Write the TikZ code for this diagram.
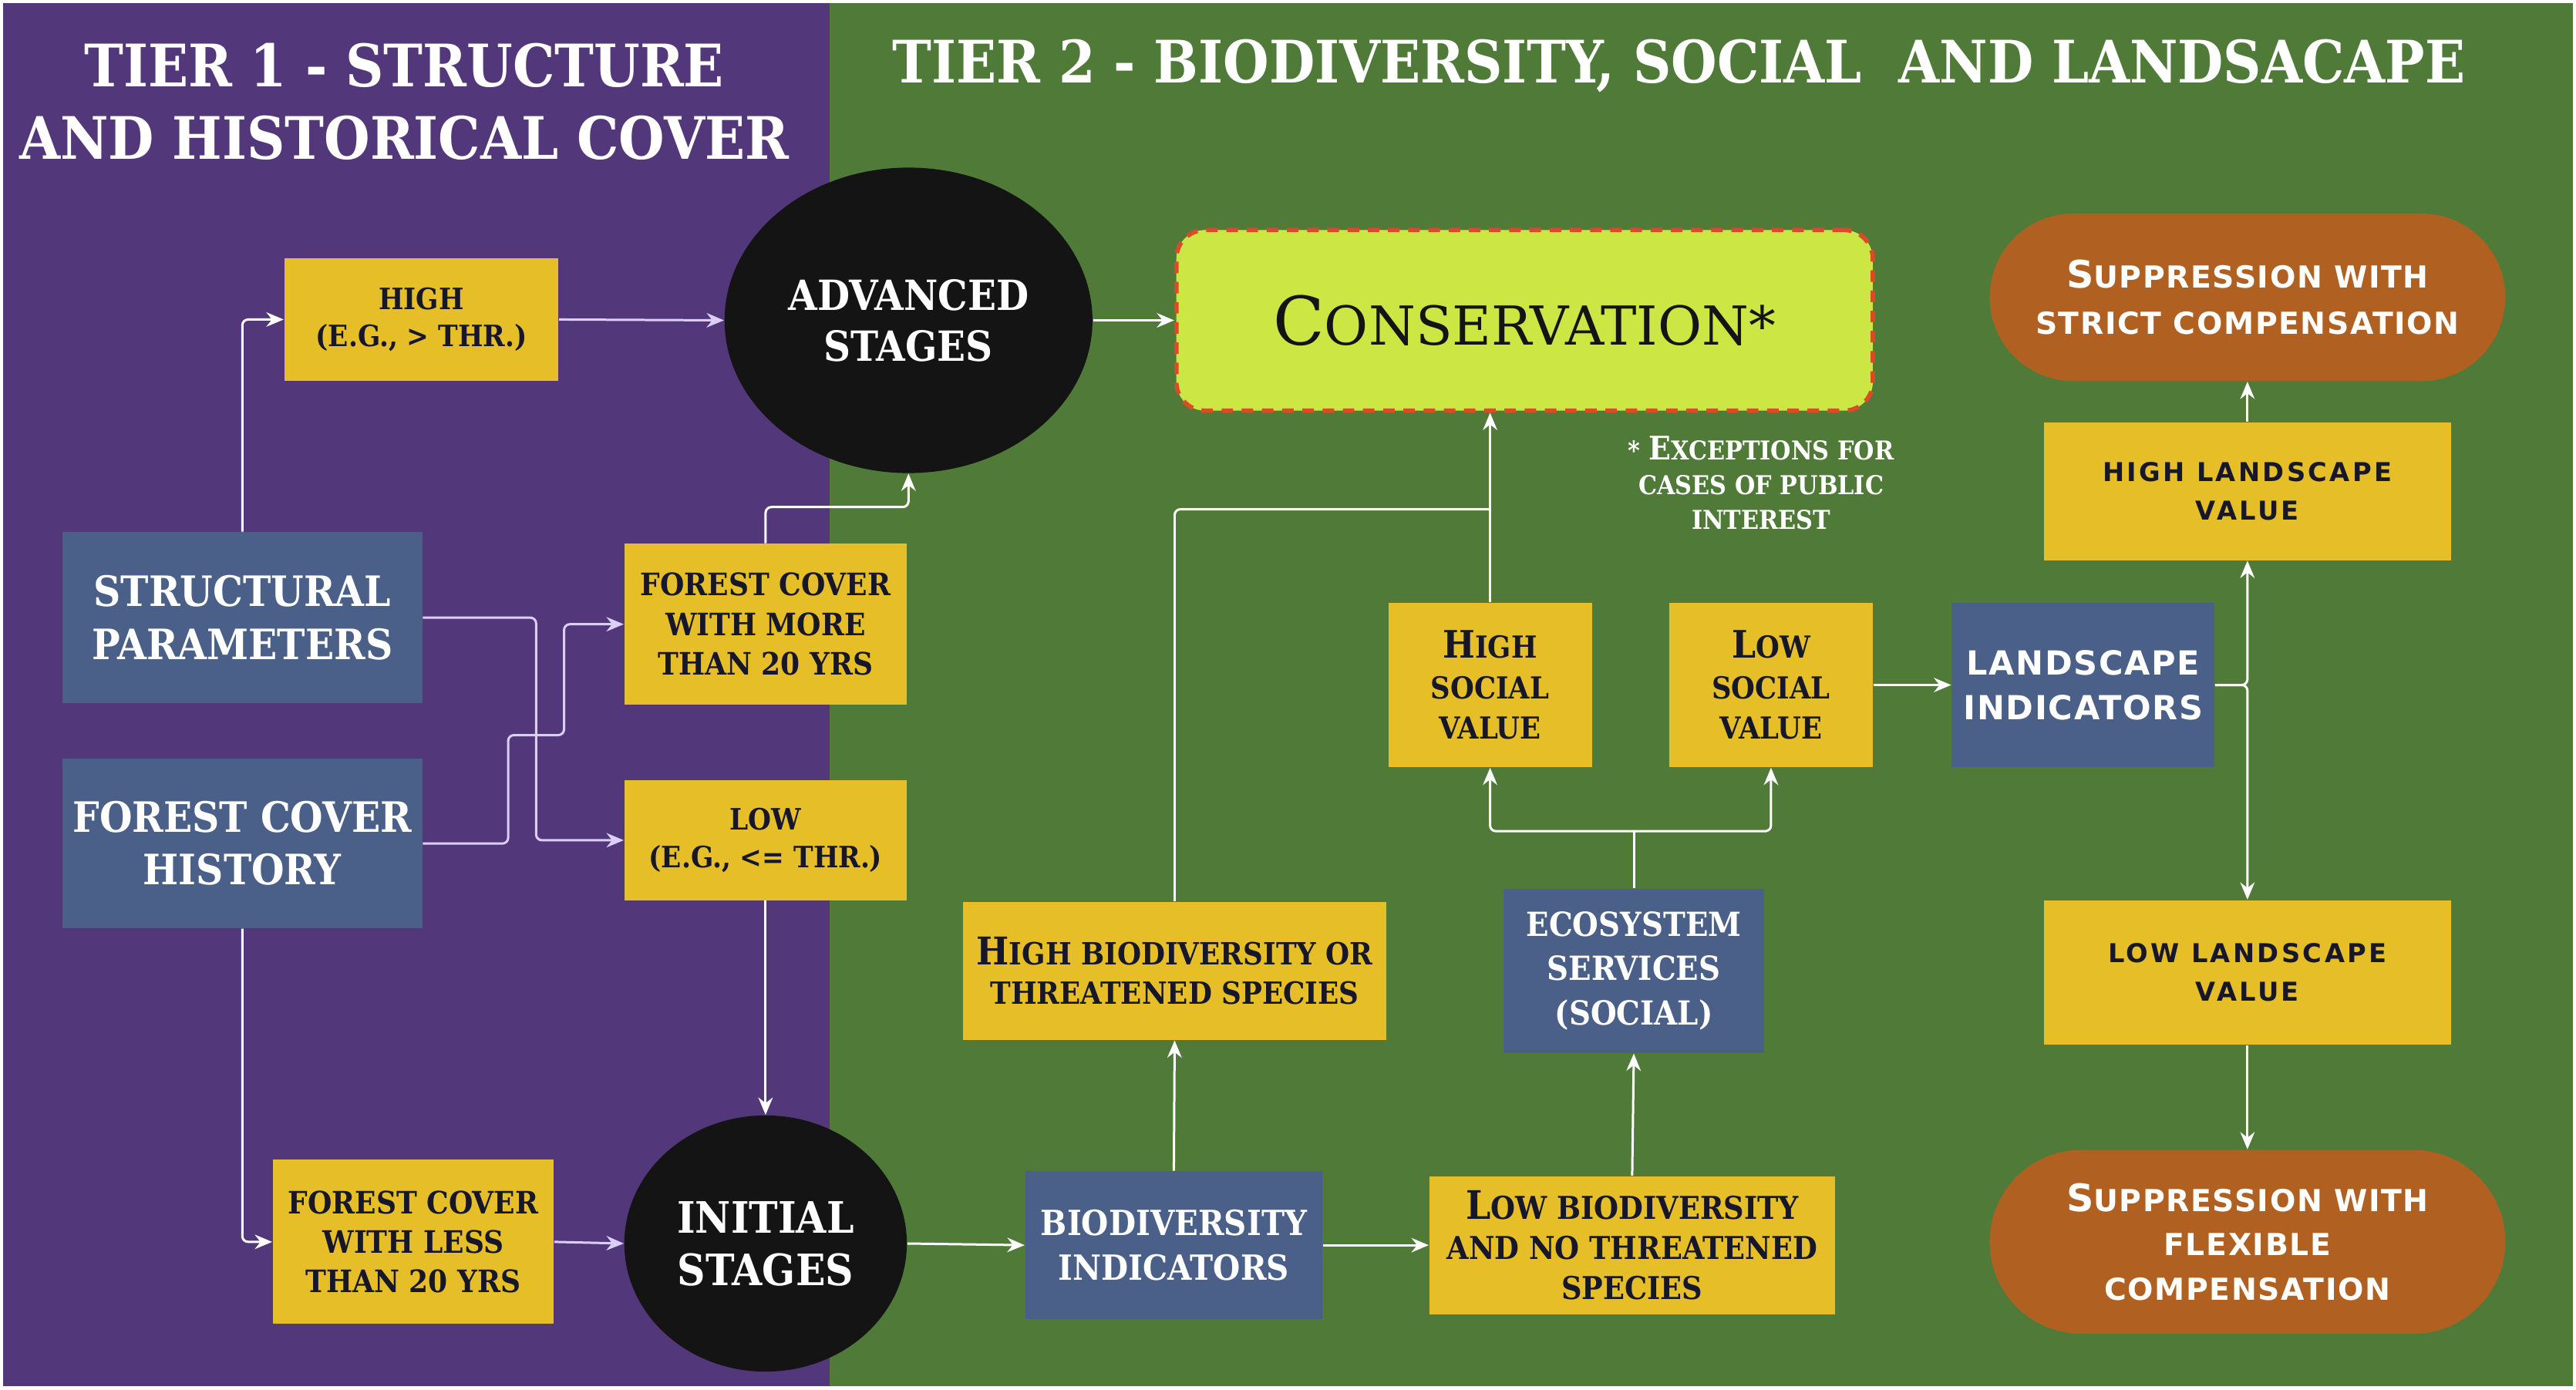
\documentclass[tikz,border=0pt]{standalone}
\usepackage{fontspec}
\usepackage{graphicx}
\setmainfont{DejaVu Serif Condensed Bold}
\newfontfamily\slabreg{DejaVu Serif}
\newfontfamily\copfont[LetterSpace=4]{DejaVu Sans Bold}
\newfontfamily\copwide[LetterSpace=10]{DejaVu Sans Bold}
\usetikzlibrary{shapes.geometric,arrows.meta}
\definecolor{purp}{HTML}{52387A}
\definecolor{grn}{HTML}{4F7A38}
\definecolor{ylw}{HTML}{E6BE28}
\definecolor{blu}{HTML}{4A6088}
\definecolor{blk}{HTML}{141414}
\definecolor{orng}{HTML}{B06121}
\definecolor{lime}{HTML}{CCE643}
\definecolor{dashred}{HTML}{DD4A2A}
\definecolor{ink}{HTML}{17172A}
\definecolor{lav}{HTML}{DCCFF5}
\newcommand\fsz[2]{\fontsize{#1}{#2}\selectfont}
\newcommand\scap[1]{\scalebox{1.25}{#1}}
\tikzset{
  ybox/.style={rectangle, inner sep=0pt, align=center, text=ink, fill=ylw},
  bbox/.style={rectangle, inner sep=0pt, align=center, text=white, fill=blu},
  oval/.style={ellipse, inner sep=0pt, align=center, text=white, fill=blk},
  pill/.style={rectangle, inner sep=0pt, align=center, text=white, fill=orng},
  arr/.style={draw=white, line width=0.8pt, rounded corners=2pt, -{Stealth[length=6pt,width=5pt]}},
  larr/.style={arr, draw=lav},
  ln/.style={draw=white, line width=0.8pt, rounded corners=2pt},
  ttl/.style={text=white, align=center, font=\fsz{20.3}{25}}
}
\begin{document}
\begin{tikzpicture}[x=0.02cm, y=-0.02cm]
\useasboundingbox (0,0) rectangle (1568,846);
\fill[white] (0,0) rectangle (1568,846);
\fill[purp] (2,2) rectangle (505,844);
\fill[grn] (505,2) rectangle (1566,844);

% titles
\node[ttl] (t1) at (246,62) {TIER 1 - STRUCTURE\\AND HISTORICAL COVER};
\node[ttl] (t2) at (1022,40) {TIER 2 - BIODIVERSITY, SOCIAL\ \ AND LANDSACAPE};

% tier 1 nodes
\node[ybox, minimum width=3.34cm, minimum height=1.5cm, font=\fsz{10.2}{13}] (high) at (256.5,194.5) {HIGH\\(E.G., > THR.)};
\node[oval, minimum width=4.48cm, minimum height=3.72cm, font=\fsz{14.4}{17.6}] (adv) at (553,195) {ADVANCED\\STAGES};
\node[bbox, minimum width=4.38cm, minimum height=2.08cm, font=\fsz{14.5}{18.2}] (sp) at (147.5,376) {STRUCTURAL\\PARAMETERS};
\node[ybox, minimum width=3.44cm, minimum height=1.96cm, font=\fsz{10.7}{13.7}] (fcm) at (466,380) {FOREST COVER\\WITH MORE\\THAN 20 YRS};
\node[bbox, minimum width=4.38cm, minimum height=2.06cm, font=\fsz{14.5}{18.2}] (fch) at (147.5,513.5) {FOREST COVER\\HISTORY};
\node[ybox, minimum width=3.44cm, minimum height=1.46cm, font=\fsz{10.2}{13}] (low) at (466,511.5) {LOW\\(E.G., <= THR.)};
\node[ybox, minimum width=3.42cm, minimum height=2.0cm, font=\fsz{10.7}{13.7}] (fcl) at (251.5,756) {FOREST COVER\\WITH LESS\\THAN 20 YRS};
\node[oval, minimum width=3.44cm, minimum height=3.12cm, font=\fsz{15}{18.2}] (init) at (466,757) {INITIAL\\STAGES};

% tier 2 nodes
\node[rectangle, inner sep=0pt, fill=lime, draw=dashred, line width=1.5pt, dash pattern=on 4pt off 3pt, rounded corners=0.35cm, minimum width=8.48cm, minimum height=2.2cm, text=blk, font=\slabreg\fsz{18.6}{22}] (cons) at (928,195) {\scap{C}ONSERVATION*};
\node[text=white, align=center, font=\fsz{9}{12}] (note) at (1072,294) {* \scap{E}XCEPTIONS FOR\\CASES OF PUBLIC\\INTEREST};
\node[pill, rounded corners=1.02cm, minimum width=6.28cm, minimum height=2.04cm, font=\copfont\fsz{10.5}{16}] (ss) at (1368,181) {\scap{S}UPPRESSION WITH\\STRICT COMPENSATION};
\node[ybox, minimum width=4.96cm, minimum height=1.68cm, font=\copwide\fsz{9}{13.5}] (hlv) at (1368,299) {HIGH LANDSCAPE\\VALUE};
\node[ybox, minimum width=2.48cm, minimum height=2.0cm, font=\fsz{10.5}{14}] (hsv) at (907,417) {\scap{H}IGH\\SOCIAL\\VALUE};
\node[ybox, minimum width=2.48cm, minimum height=2.0cm, font=\fsz{10.5}{14}] (lsv) at (1078,417) {\scap{L}OW\\SOCIAL\\VALUE};
\node[bbox, minimum width=3.2cm, minimum height=2.0cm, font=\copfont\fsz{11.5}{15.4}] (li) at (1268,417) {LANDSCAPE\\INDICATORS};
\node[ybox, minimum width=5.16cm, minimum height=1.68cm, font=\fsz{10.6}{13.7}] (hb) at (715,591) {\scap{H}IGH BIODIVERSITY OR\\THREATENED SPECIES};
\node[bbox, minimum width=3.18cm, minimum height=2.0cm, font=\fsz{11.5}{15.4}] (eco) at (994.5,591) {ECOSYSTEM\\SERVICES\\(SOCIAL)};
\node[ybox, minimum width=4.96cm, minimum height=1.76cm, font=\copwide\fsz{9}{13.5}] (llv) at (1368,592) {LOW LANDSCAPE\\VALUE};
\node[bbox, minimum width=3.62cm, minimum height=1.8cm, font=\fsz{12}{15.4}] (bi) at (714.5,758) {BIODIVERSITY\\INDICATORS};
\node[ybox, minimum width=4.94cm, minimum height=1.68cm, font=\fsz{10.9}{14}] (lb) at (993.5,758) {\scap{L}OW BIODIVERSITY\\AND NO THREATENED\\SPECIES};
\node[pill, rounded corners=1.12cm, minimum width=6.28cm, minimum height=2.24cm, font=\copfont\fsz{10.5}{15.4}] (sf) at (1368,756) {\scap{S}UPPRESSION WITH\\FLEXIBLE\\COMPENSATION};

% connectors tier 1
\draw[arr] (sp.north) |- (high.west);
\draw[larr] (high.east) -- (adv.west);
\draw[arr] (adv.east) -- (cons.west);
\draw[larr] (sp.east) -- ++(69,0) |- (low.west);
\draw[larr] (fch.east) -- ++(52,0) -- ++(0,-66) -- ++(34,0) |- (fcm.west);
\draw[arr] (fcm.north) -- ++(0,-22) -| (adv.south);
\draw[arr] (low.south) -- (init.north);
\draw[arr] (fch.south) |- (fcl.west);
\draw[larr] (fcl.east) -- (init.west);

% connectors tier 2
\draw[arr] (init.east) -- (bi.west);
\draw[arr] (bi.north) -- (hb.south);
\draw[arr] (bi.east) -- (lb.west);
\coordinate (j1) at (907,310);
\draw[ln] (hb.north) |- (j1);
\draw[ln] (hsv.north) -- (j1);
\draw[arr] (j1) -- (j1 |- cons.south);
\draw[arr] (lb.north) -- (eco.south);
\coordinate (j2) at (994.5,506);
\draw[ln] (eco.north) -- (j2);
\draw[arr] (j2) -| (hsv.south);
\draw[arr] (j2) -| (lsv.south);
\draw[arr] (lsv.east) -- (li.west);
\draw[arr] (li.east) -| (hlv.south);
\draw[arr] (li.east) -| (llv.north);
\draw[arr] (hlv.north) -- (ss.south);
\draw[arr] (llv.south) -- (sf.north);
\end{tikzpicture}
\end{document}
